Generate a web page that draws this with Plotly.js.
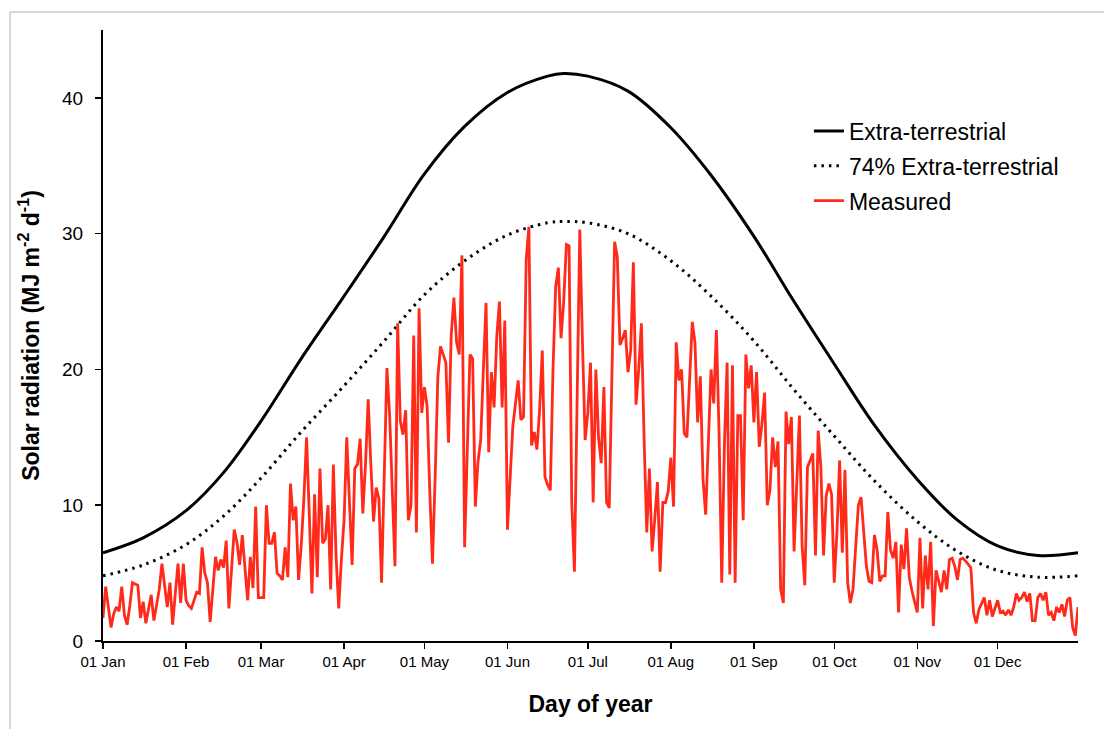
<!DOCTYPE html>
<html>
<head>
<meta charset="utf-8">
<script src="https://cdn.plot.ly/plotly-3.0.1.min.js"></script>
<style>html,body{margin:0;padding:0;background:#fff;}#chart{width:1104px;height:729px;}</style>
</head>
<body>
<div id="chart"></div>
<script>
// Measured daily solar radiation (MJ m-2 d-1), one value per day, by month
const jan = [1.7, 4.0, 2.5, 1.0, 2.0, 2.5, 2.2, 4.0, 1.9, 1.2, 2.6, 4.3, 4.2, 4.1, 1.7, 2.9, 1.3, 2.5, 3.4, 1.5, 2.6, 3.8, 5.7, 4.0, 2.5, 4.3, 1.2, 3.5, 5.7, 2.8, 5.7];
const feb = [3.0, 2.6, 2.4, 3.0, 3.6, 3.5, 6.9, 5.0, 4.3, 1.4, 4.0, 6.2, 5.2, 6.0, 5.4, 7.4, 2.4, 5.0, 8.2, 7.3, 5.6, 7.8, 5.5, 3.0, 6.2, 3.9, 9.9, 3.2];
const mar = [3.2, 3.2, 10.0, 7.2, 7.2, 8.0, 5.0, 4.8, 4.5, 6.9, 4.7, 11.6, 8.9, 9.9, 4.5, 7.0, 10.5, 15.0, 9.4, 3.5, 10.8, 4.7, 12.7, 7.2, 7.5, 10.0, 3.8, 13.0, 6.3, 2.4, 6.0];
const apr = [8.9, 15.0, 10.0, 5.6, 12.7, 13.0, 14.9, 9.4, 13.0, 17.8, 13.0, 8.8, 11.3, 10.5, 4.3, 12.0, 20.1, 16.7, 11.0, 5.5, 23.4, 16.2, 15.2, 17.0, 8.9, 10.0, 22.5, 8.0, 24.5, 16.8];
const may = [18.7, 17.3, 11.0, 5.7, 12.0, 19.4, 21.7, 21.0, 20.5, 14.6, 22.5, 25.3, 22.0, 21.1, 28.4, 6.9, 15.0, 21.1, 20.8, 9.9, 13.2, 14.8, 20.0, 24.9, 13.9, 19.8, 17.2, 22.4, 25.0, 17.2, 23.6];
const jun = [8.2, 12.0, 15.8, 17.5, 19.2, 16.3, 16.5, 28.1, 30.5, 14.4, 15.4, 14.1, 17.0, 21.4, 12.1, 11.5, 11.1, 20.0, 26.1, 27.5, 22.3, 25.0, 29.2, 29.1, 10.2, 5.1, 18.0, 30.3, 22.0, 14.8];
const jul = [16.8, 20.5, 10.2, 20.0, 15.0, 13.1, 18.7, 10.2, 9.8, 20.0, 29.4, 28.3, 21.8, 22.3, 22.9, 19.8, 21.4, 27.9, 17.4, 20.0, 23.4, 15.0, 8.0, 12.7, 6.6, 9.0, 11.7, 5.1, 10.2, 10.2, 11.0];
const aug = [13.5, 9.9, 22.0, 19.2, 20.0, 15.3, 15.0, 19.0, 23.5, 22.0, 16.1, 19.5, 11.9, 9.3, 15.3, 20.0, 17.5, 22.9, 15.3, 4.3, 14.5, 20.5, 4.9, 20.3, 4.3, 16.6, 16.6, 8.9, 21.1, 18.6, 20.3];
const sep = [16.1, 19.8, 14.3, 16.0, 18.3, 10.0, 11.1, 15.0, 12.8, 14.7, 3.8, 2.8, 16.9, 14.5, 16.5, 6.6, 11.0, 16.6, 7.0, 4.1, 12.8, 13.3, 13.8, 6.3, 15.5, 12.8, 6.3, 10.7, 11.6, 10.8];
const oct = [4.3, 8.0, 13.3, 6.5, 12.6, 4.3, 2.8, 3.8, 7.0, 10.0, 10.6, 8.1, 5.5, 4.4, 4.3, 7.8, 6.7, 4.4, 4.8, 4.8, 9.5, 6.7, 6.1, 7.3, 2.1, 7.1, 5.3, 8.3, 4.7, 3.7, 3.0];
const nov = [2.1, 7.6, 2.4, 6.3, 3.8, 7.3, 1.1, 5.2, 4.5, 3.6, 5.2, 3.8, 6.0, 6.1, 5.5, 4.5, 6.0, 6.1, 5.9, 5.6, 5.4, 2.1, 1.3, 2.3, 2.8, 3.2, 1.9, 3.0, 1.8, 2.5];
const dec = [3.0, 2.1, 2.2, 1.9, 2.3, 1.9, 2.5, 3.5, 3.0, 3.2, 3.6, 2.9, 3.5, 1.5, 1.5, 3.2, 3.5, 3.0, 3.6, 1.9, 2.1, 1.5, 2.5, 2.1, 2.7, 1.8, 3.0, 3.2, 1.0, 0.4, 2.5];

// Extra-terrestrial and 74% extra-terrestrial, read at selected days of year
const refDays = [1, 16, 32, 46, 60, 75, 91, 106, 121, 136, 152, 167, 173, 182, 197, 213, 228, 244, 259, 274, 289, 305, 320, 335, 350, 365];
const extraTerrestrial = [6.5, 7.6, 9.6, 12.4, 16.2, 20.8, 25.4, 29.8, 34.4, 37.9, 40.4, 41.6, 41.8, 41.6, 40.5, 37.8, 34.3, 29.8, 25.0, 20.4, 15.9, 11.9, 8.9, 7.0, 6.3, 6.5];
const extraTerrestrial74 = [4.8, 5.6, 7.1, 9.2, 12.0, 15.4, 18.8, 22.1, 25.5, 28.0, 29.9, 30.8, 30.9, 30.8, 30.0, 28.0, 25.4, 22.1, 18.5, 15.1, 11.8, 8.8, 6.6, 5.2, 4.7, 4.8];

// Axis ticks
const tickDays = [1, 32, 60, 91, 121, 152, 182, 213, 244, 274, 305, 335];
const tickLabels = ["01 Jan", "01 Feb", "01 Mar", "01 Apr", "01 May", "01 Jun", "01 Jul", "01 Aug", "01 Sep", "01 Oct", "01 Nov", "01 Dec"];

const measured = [].concat(jan, feb, mar, apr, may, jun, jul, aug, sep, oct, nov, dec);
const measuredDays = measured.map((v, i) => i + 1);

const traces = [
  {x: refDays, y: extraTerrestrial, type: 'scatter', mode: 'lines', name: 'Extra-terrestrial',
   legendgroup: 'a', line: {color: '#000000', width: 3, shape: 'spline', smoothing: 1}},
  {x: refDays, y: extraTerrestrial74, type: 'scatter', mode: 'lines', name: '74% Extra-terrestrial',
   legendgroup: 'b', line: {color: '#000000', width: 3, dash: '2.5px,5px', shape: 'spline', smoothing: 1}},
  {x: measuredDays, y: measured, type: 'scatter', mode: 'lines', name: 'Measured',
   legendgroup: 'c', line: {color: '#ff2a1a', width: 2.8}}
];

const layout = {
  width: 1104, height: 729,
  margin: {l: 103, r: 26, t: 30, b: 88},
  paper_bgcolor: '#ffffff', plot_bgcolor: '#ffffff',
  font: {family: 'Arial, "Liberation Sans", sans-serif', color: '#000000'},
  showlegend: true,
  legend: {x: 0.724, y: 0.87, xanchor: 'left', yanchor: 'top', bgcolor: 'rgba(0,0,0,0)',
           font: {size: 23, family: 'Arial, "Liberation Sans", sans-serif'}, itemwidth: 30,
           tracegroupgap: 2},
  xaxis: {
    range: [1, 365], tickmode: 'array', tickvals: tickDays, ticktext: tickLabels,
    showgrid: false, zeroline: false, showline: true, linecolor: '#000000', linewidth: 2,
    ticks: 'outside', ticklen: 6, tickwidth: 1.5, tickcolor: '#000000',
    tickfont: {size: 15},
    title: {text: '<b>Day of year</b>', font: {size: 23}, standoff: 27}
  },
  yaxis: {
    range: [0, 45], tickvals: [0, 10, 20, 30, 40],
    showgrid: false, zeroline: false, showline: true, linecolor: '#000000', linewidth: 2,
    ticks: 'outside', ticklen: 6, tickwidth: 1.5, tickcolor: '#000000',
    tickfont: {size: 19}, ticklabelstandoff: 8,
    title: {text: '<b>Solar radiation (MJ m<sup>-2</sup> d<sup>-1</sup>)</b>', font: {size: 23}, standoff: 16}
  },
  shapes: [
    {type: 'line', xref: 'paper', yref: 'paper', x0: -0.0954, x1: 1.03, y0: 1.0295, y1: 1.0295,
     line: {color: '#b0b0b0', width: 1}},
    {type: 'line', xref: 'paper', yref: 'paper', x0: -0.0954, x1: -0.0954, y0: 1.0295, y1: -0.15,
     line: {color: '#b0b0b0', width: 1}}
  ]
};

Plotly.newPlot('chart', traces, layout, {displayModeBar: false, staticPlot: true});
</script>
</body>
</html>
